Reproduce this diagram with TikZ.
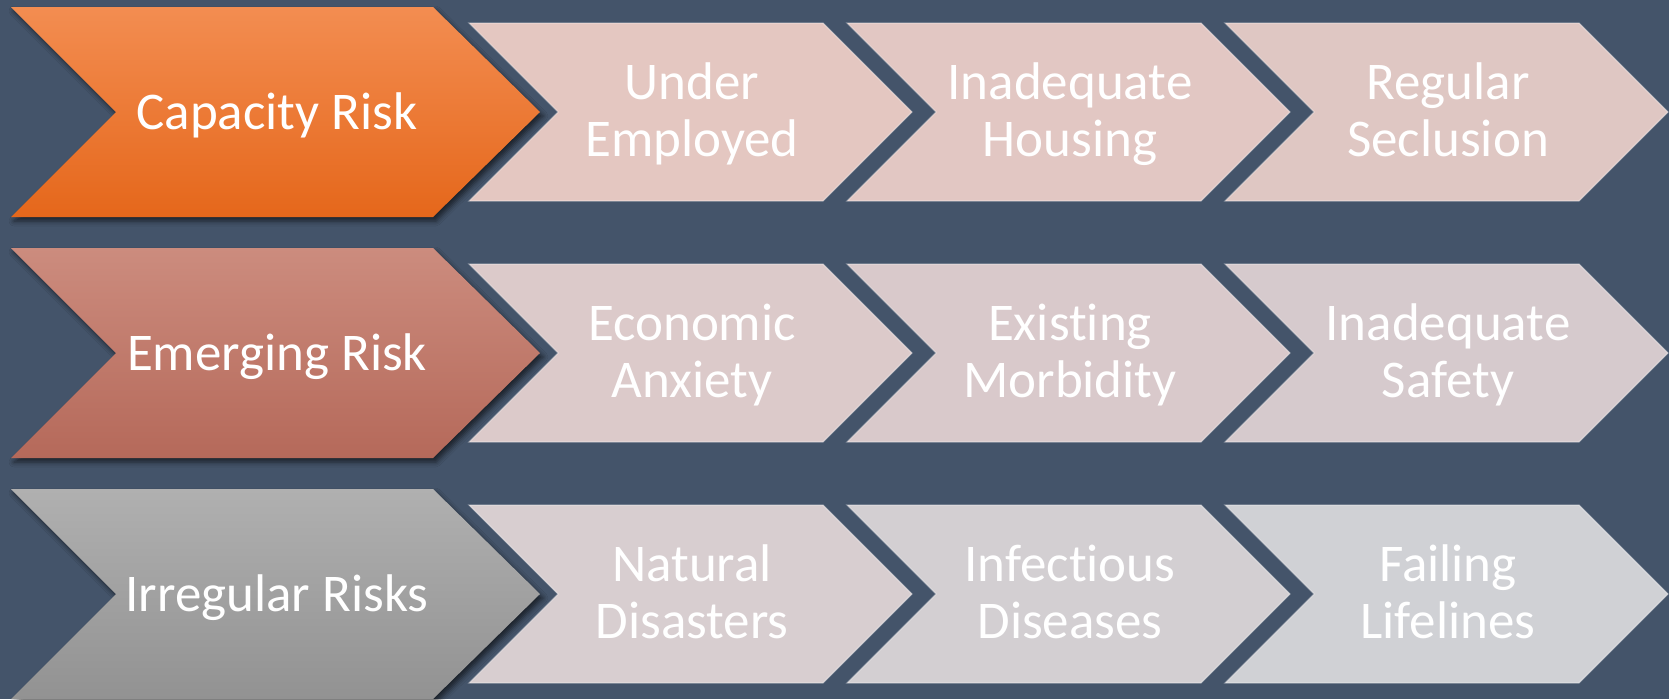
\documentclass[tikz,border=0pt]{standalone}
\usepackage{fontspec}
\setmainfont{Carlito}[Ligatures=NoCommon]
\usetikzlibrary{shadows.blur}
\definecolor{bg}{HTML}{44546A}
\definecolor{orT}{HTML}{F38D51}
\definecolor{orB}{HTML}{E5671B}
\definecolor{emT}{HTML}{CC8C7E}
\definecolor{emB}{HTML}{B5695A}
\definecolor{grT}{HTML}{B0B0B0}
\definecolor{grB}{HTML}{929292}
\definecolor{sa1}{HTML}{E4C7C1}
\definecolor{sa2}{HTML}{E2C7C3}
\definecolor{sa3}{HTML}{DFC7C3}
\definecolor{sb1}{HTML}{DCCACA}
\definecolor{sb2}{HTML}{D9C9CB}
\definecolor{sb3}{HTML}{D6CACD}
\definecolor{sc1}{HTML}{D8CED0}
\definecolor{sc2}{HTML}{D3CFD2}
\definecolor{sc3}{HTML}{D0D1D5}
\newcommand\twoln[2]{\strut#1\\\strut#2}
\begin{document}
\begin{tikzpicture}[x=1pt,y=-1pt,
  bigchev/.style={blur shadow={shadow xshift=3pt,shadow yshift=-4pt,shadow blur radius=5pt,shadow opacity=60}},
  smallchev/.style={draw=white,draw opacity=0.35,line width=1.2pt},
  lbl/.style={text=white,font=\fontsize{53}{57}\selectfont,align=center,inner sep=0pt}]
\useasboundingbox (0,0) rectangle (1669,699);
\fill[bg] (0,0) rectangle (1669,699);
% small chevrons
\foreach \r/\ca/\cb/\cc in {0/sa1/sa2/sa3,1/sb1/sb2/sb3,2/sc1/sc2/sc3}{
  \foreach \i/\col in {0/\ca,1/\cb,2/\cc}{
    \pgfmathsetmacro\dy{241*\r}
    \pgfmathsetmacro\xo{469+378*\i}
    \path[smallchev,fill=\col] (\xo,23+\dy) -- (\xo+354,23+\dy) -- (\xo+443,112+\dy)
      -- (\xo+354,201+\dy) -- (\xo,201+\dy) -- (\xo+89,112+\dy) -- cycle;
  }
}
% big chevrons
\foreach \r/\ct/\cbm in {0/orT/orB,1/emT/emB,2/grT/grB}{
  \pgfmathsetmacro\dy{241*\r}
  \path[bigchev,top color=\ct,bottom color=\cbm] (11,7+\dy) -- (433,7+\dy) -- (540,112+\dy)
    -- (433,217+\dy) -- (11,217+\dy) -- (116,112+\dy) -- cycle;
}
% labels row 1
\node[lbl] (cap) at (277,118.5) {\strut Capacity Risk};
\node[lbl] (c1) at (692,117) {\twoln{Under}{Employed}};
\node[lbl] (c2) at (1070,117) {\twoln{Inadequate}{Housing}};
\node[lbl] (c3) at (1448,117) {\twoln{Regular}{Seclusion}};
% labels row 2
\node[lbl] (emr) at (277,359.5) {\strut Emerging Risk};
\node[lbl] (e1) at (692,358) {\twoln{Economic}{Anxiety}};
\node[lbl] (e2) at (1070,358) {\twoln{Existing}{Morbidity}};
\node[lbl] (e3) at (1448,358) {\twoln{Inadequate}{Safety}};
% labels row 3
\node[lbl] (irr) at (277,600.5) {\strut Irregular Risks};
\node[lbl] (i1) at (692,599) {\twoln{Natural}{Disasters}};
\node[lbl] (i2) at (1070,599) {\twoln{Infectious}{Diseases}};
\node[lbl] (i3) at (1448,599) {\twoln{Failing}{Lifelines}};
\end{tikzpicture}
\end{document}
